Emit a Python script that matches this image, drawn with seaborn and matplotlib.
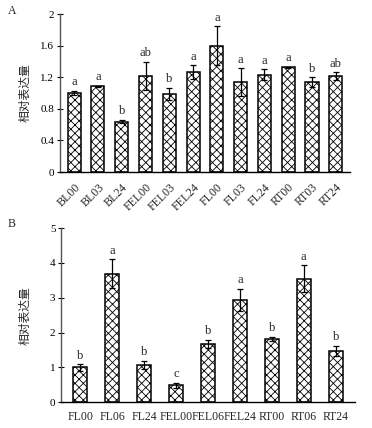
import matplotlib
matplotlib.use("Agg")
import matplotlib.pyplot as plt
import seaborn as sns
import pandas as pd

# Panel A data
cats_a = ["BL00", "BL03", "BL24", "FEL00", "FEL03", "FEL24", "FL00", "FL03", "FL24", "RT00", "RT03", "RT24"]
vals_a = [1.00, 1.085, 0.64, 1.22, 0.99, 1.265, 1.60, 1.14, 1.23, 1.325, 1.14, 1.215]
errs_a = [0.03, 0.01, 0.025, 0.18, 0.08, 0.085, 0.25, 0.175, 0.07, 0.01, 0.06, 0.05]
sig_a = ["a", "a", "b", "ab", "b", "a", "a", "a", "a", "a", "b", "ab"]
yticks_a = [0, 0.4, 0.8, 1.2, 1.6, 2]

# Panel B data
cats_b = ["FL00", "FL06", "FL24", "FEL00", "FEL06", "FEL24", "RT00", "RT06", "RT24"]
vals_b = [1.00, 3.69, 1.07, 0.49, 1.67, 2.94, 1.82, 3.55, 1.475]
errs_b = [0.09, 0.41, 0.11, 0.075, 0.12, 0.31, 0.05, 0.38, 0.135]
sig_b = ["b", "a", "b", "c", "b", "a", "b", "a", "b"]
yticks_b = [0, 1, 2, 3, 4, 5]

ylabel = "相对表达量"

sns.set_style("white")
plt.rcParams["font.family"] = ["Liberation Serif", "Noto Sans CJK SC", "DejaVu Sans"]
plt.rcParams["hatch.linewidth"] = 0.6
plt.rcParams["hatch.color"] = "#333333"

fig = plt.figure(figsize=(3.72, 4.28), dpi=100)
ax_a = fig.add_axes([0.161, 0.598, 0.780, 0.369])
ax_b = fig.add_axes([0.164, 0.060, 0.790, 0.407])


def draw(ax, cats, vals, errs, sig, yticks, width, ymax, rot, letter_pad, label_x):
    df = pd.DataFrame({"cat": cats, "val": vals})
    sns.barplot(data=df, x="cat", y="val", ax=ax, color="white", edgecolor="black",
                linewidth=1.1, hatch="xxxx", width=width, errorbar=None)
    for p in ax.patches:
        p.set_facecolor("white")
    xs = list(range(len(cats)))
    ax.errorbar(xs, vals, yerr=errs, fmt="none", ecolor="black", elinewidth=0.9,
                capsize=2.5, capthick=0.9)
    for x, v, e, s in zip(xs, vals, errs, sig):
        ax.text(x, v + e + letter_pad, s, ha="center", va="bottom", fontsize=9)
    ax.set_ylim(0, ymax)
    ax.set_xlim(-0.6, len(cats) - 0.4)
    ax.set_yticks(yticks)
    ax.set_yticklabels([f"{t:g}" for t in yticks], fontsize=8)
    ax.set_xlabel("")
    ax.set_ylabel(ylabel, fontsize=8.5, family=["Noto Sans CJK SC", "DejaVu Sans"])
    ax.yaxis.set_label_coords(label_x, 0.5)
    for side in ["top", "right"]:
        ax.spines[side].set_visible(False)
    ax.spines["left"].set_color("#555555")
    ax.spines["bottom"].set_color("black")
    ax.spines["left"].set_linewidth(1.0)
    ax.spines["bottom"].set_linewidth(1.0)
    ax.tick_params(axis="y", which="both", direction="inout", length=4, width=0.8,
                   left=True, pad=2, colors="black")
    ax.tick_params(axis="x", bottom=False, pad=3)
    for lab in ax.get_xticklabels():
        lab.set_fontsize(8.5)
        if rot:
            lab.set_rotation(45)
            lab.set_ha("right")
            lab.set_rotation_mode("anchor")


draw(ax_a, cats_a, vals_a, errs_a, sig_a, yticks_a, 0.55, 2, True, 0.03, -0.10)
draw(ax_b, cats_b, vals_b, errs_b, sig_b, yticks_b, 0.43, 5, False, 0.08, -0.102)

fig.text(8 / 372, 1 - 11 / 428, "A", fontsize=8.5, ha="left", va="center")
fig.text(8 / 372, 1 - 224 / 428, "B", fontsize=8.5, ha="left", va="center")

fig.savefig("out.png", dpi=100)
